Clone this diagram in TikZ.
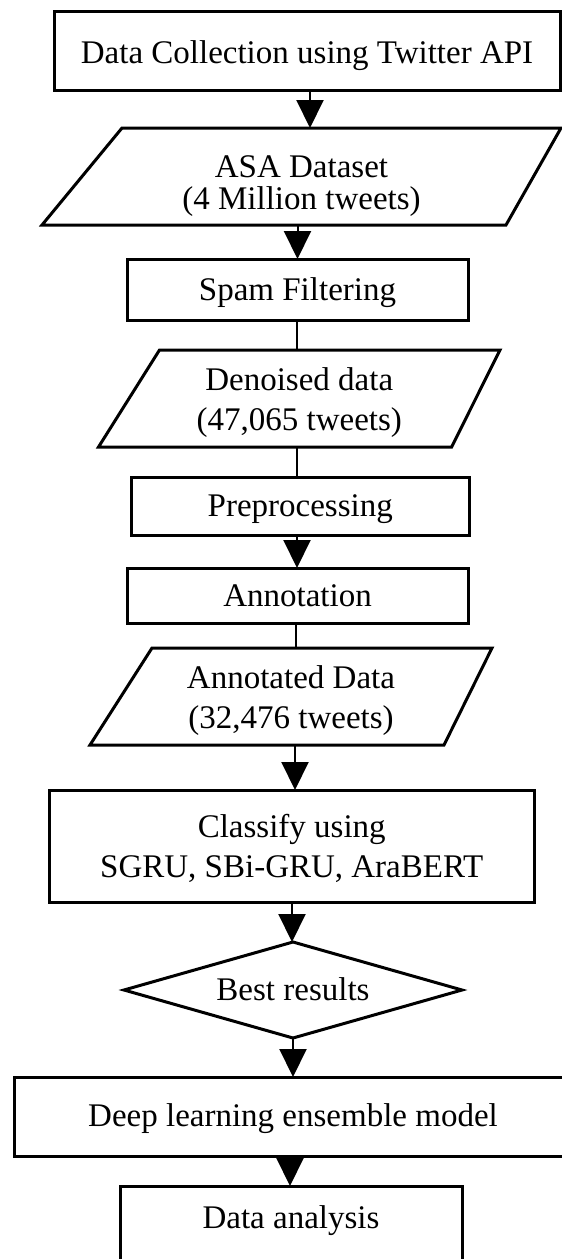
\documentclass[tikz,border=0pt]{standalone}
\usepackage{fontspec}
\setmainfont{Liberation Serif}
\usetikzlibrary{arrows.meta}
\begin{document}
\begin{tikzpicture}[x=1pt,y=-1pt,
  every node/.style={inner sep=0pt, outer sep=0pt, align=center,
    font=\fontsize{33}{40}\selectfont},
  boxnode/.style={draw, line width=3pt},
  ghost/.style={draw=none},
  shapeline/.style={line width=3pt},
  conn/.style={line width=2pt},
  arr/.style={conn, -{Triangle[length=28pt,width=27pt]}}]
\useasboundingbox (0,0) rectangle (562,1259);
\clip (0,0) rectangle (562,1259);

% nodes
\node[boxnode, minimum width=506pt, text height=52pt, text depth=27pt] (b1) at (307,50.5) {Data Collection using Twitter API};
\node[ghost, minimum width=519pt, text height=81pt, text depth=16pt, font=\fontsize{33}{32}\selectfont] (asa) at (301.5,176.5) {ASA Dataset\\(4 Million tweets)};
\node[boxnode, minimum width=341pt, text height=41pt, text depth=20pt] (spam) at (297.5,289.5) {Spam Filtering};
\node[ghost, minimum width=401.5pt, text height=80pt, text depth=17pt] (den) at (299.25,398.5) {Denoised data\\(47,065 tweets)};
\node[boxnode, minimum width=338.5pt, text height=39.7pt, text depth=18.3pt] (pre) at (300.25,506) {Preprocessing};
\node[boxnode, minimum width=341pt, text height=38.7pt, text depth=16.3pt] (ann) at (297.5,595.5) {Annotation};
\node[ghost, minimum width=402pt, text height=80pt, text depth=17pt] (annd) at (291,696.5) {Annotated Data\\(32,476 tweets)};
\node[boxnode, minimum width=484.5pt, text height=87pt, text depth=25pt] (cls) at (291.75,846) {Classify using\\SGRU, SBi-GRU, AraBERT};
\node[ghost, minimum width=338pt, text height=58pt, text depth=38pt] (best) at (293,990) {Best results};
\node[boxnode, minimum width=558pt, text height=49.7pt, text depth=29.3pt] (deep) at (293,1116.5) {Deep learning ensemble model};
\node[boxnode, minimum width=342pt, text height=42pt, text depth=44pt] (da) at (291,1229) {Data analysis};

% data shapes (slanted)
\draw[shapeline] ([xshift=80pt]asa.north west) -- (asa.north east) -- ([xshift=-55pt]asa.south east) -- (asa.south west) -- cycle;
\draw[shapeline] ([xshift=61pt]den.north west) -- (den.north east) -- ([xshift=-48.4pt]den.south east) -- (den.south west) -- cycle;
\draw[shapeline] ([xshift=62pt]annd.north west) -- (annd.north east) -- ([xshift=-48pt]annd.south east) -- (annd.south west) -- cycle;
% decision
\draw[shapeline] (best.north) -- (best.east) -- (best.south) -- (best.west) -- cycle;

% connector columns
\coordinate (c1) at (310,0);
\coordinate (c2) at (297.5,0);
\coordinate (c3) at (297,0);
\coordinate (c4) at (297,0);
\coordinate (c5) at (297,0);
\coordinate (c6) at (296,0);
\coordinate (c7) at (295,0);
\coordinate (c8) at (292,0);
\coordinate (c9) at (293,0);
\coordinate (c10) at (290,0);

\draw[arr] (b1.south -| c1) -- (asa.north -| c1);
\draw[arr] (asa.south -| c2) -- (spam.north -| c2);
\draw[conn] (spam.south -| c3) -- (den.north -| c3);
\draw[conn] (den.south -| c4) -- (pre.north -| c4);
\draw[arr] (pre.south -| c5) -- (ann.north -| c5);
\draw[conn] (ann.south -| c6) -- (annd.north -| c6);
\draw[arr] (annd.south -| c7) -- (cls.north -| c7);
\draw[arr] (cls.south -| c8) -- (best.north -| c8);
\draw[arr] (best.south -| c9) -- (deep.north -| c9);
\draw[arr] (deep.south -| c10) -- (da.north -| c10);
\end{tikzpicture}
\end{document}
